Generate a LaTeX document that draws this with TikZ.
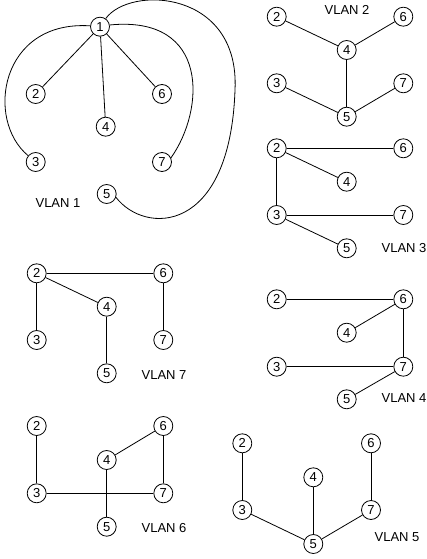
\documentclass[tikz,border=0pt]{standalone}
\usepackage{fontspec}
\setmainfont{Liberation Sans}
\begin{document}
\begin{tikzpicture}[x=1pt,y=-1pt,
  vnode/.style={circle,draw,line width=0.8pt,inner sep=0pt,minimum size=19pt,font=\fontsize{13}{15}\selectfont},
  vlabel/.style={font=\fontsize{13}{15}\selectfont,inner sep=0pt},
  link/.style={line width=0.8pt}]
\useasboundingbox (0,0) rectangle (427,559);
% VLAN 1
\node[vnode] (a1) at (100,26.7) {1};
\node[vnode] (a2) at (35.7,94) {2};
\node[vnode] (a6) at (162,94) {6};
\node[vnode] (a4) at (105.7,126.7) {4};
\node[vnode] (a3) at (35.7,162) {3};
\node[vnode] (a7) at (162,162) {7};
\node[vnode] (a5) at (106.7,194) {5};
\node[vlabel] (la) at (58,203) {VLAN 1};
\draw[link] (a1) -- (a2);
\draw[link] (a1) -- (a4);
\draw[link] (a1) -- (a6);
\draw[link] (a1.175) .. controls (0,20) and (-15,120) .. (a3.140);
\draw[link] (a1.10) .. controls (210,15) and (205,110) .. (a7.25);
\draw[link] (a1.55) .. controls (130,-15) and (240,-10) .. (235,90) .. controls (230,235) and (145,235) .. (a5.-20);
% VLAN 2
\node[vnode] (b2) at (276.7,16.7) {2};
\node[vnode] (b6) at (403.3,16.7) {6};
\node[vnode] (b4) at (346.7,50) {4};
\node[vnode] (b3) at (276.7,83.3) {3};
\node[vnode] (b7) at (403.3,83.3) {7};
\node[vnode] (b5) at (346.7,116.7) {5};
\node[vlabel] (lb) at (347,9.5) {VLAN 2};
\draw[link] (b2) -- (b4);
\draw[link] (b6) -- (b4);
\draw[link] (b4) -- (b5);
\draw[link] (b3) -- (b5);
\draw[link] (b7) -- (b5);
% VLAN 3
\node[vnode] (c2) at (276.7,148.3) {2};
\node[vnode] (c6) at (403.3,148.3) {6};
\node[vnode] (c4) at (346.7,181.7) {4};
\node[vnode] (c3) at (276.7,215) {3};
\node[vnode] (c7) at (403.3,215) {7};
\node[vnode] (c5) at (346.7,248.3) {5};
\node[vlabel] (lc) at (404,248) {VLAN 3};
\draw[link] (c2) -- (c6);
\draw[link] (c2) -- (c4);
\draw[link] (c2) -- (c3);
\draw[link] (c3) -- (c7);
\draw[link] (c3) -- (c5);
% VLAN 7
\node[vnode] (g2) at (36.7,273.3) {2};
\node[vnode] (g6) at (163.3,273.3) {6};
\node[vnode] (g4) at (106.7,306.7) {4};
\node[vnode] (g3) at (36.7,340) {3};
\node[vnode] (g7) at (163.3,340) {7};
\node[vnode] (g5) at (106.7,373.3) {5};
\node[vlabel] (lg) at (164,375) {VLAN 7};
\draw[link] (g2) -- (g6);
\draw[link] (g2) -- (g4);
\draw[link] (g2) -- (g3);
\draw[link] (g4) -- (g5);
\draw[link] (g6) -- (g7);
% VLAN 4
\node[vnode] (d2) at (276.7,299.3) {2};
\node[vnode] (d6) at (403.3,299.3) {6};
\node[vnode] (d4) at (346.7,332.7) {4};
\node[vnode] (d3) at (276.7,366.7) {3};
\node[vnode] (d7) at (403.3,366.7) {7};
\node[vnode] (d5) at (346.7,399.3) {5};
\node[vlabel] (ld) at (404,398) {VLAN 4};
\draw[link] (d2) -- (d6);
\draw[link] (d4) -- (d6);
\draw[link] (d6) -- (d7);
\draw[link] (d3) -- (d7);
\draw[link] (d5) -- (d7);
% VLAN 6
\node[vnode] (f2) at (36.7,426) {2};
\node[vnode] (f6) at (163.3,426) {6};
\node[vnode] (f4) at (106.7,460) {4};
\node[vnode] (f3) at (36.7,493.3) {3};
\node[vnode] (f7) at (163.3,493.3) {7};
\node[vnode] (f5) at (106.7,526.7) {5};
\node[vlabel] (lf) at (164,528) {VLAN 6};
\draw[link] (f2) -- (f3);
\draw[link] (f4) -- (f6);
\draw[link] (f6) -- (f7);
\draw[link] (f3) -- (f7);
\draw[link] (f4) -- (f5);
% VLAN 5
\node[vnode] (e2) at (242.3,443.3) {2};
\node[vnode] (e6) at (371,443.3) {6};
\node[vnode] (e4) at (313.3,477.3) {4};
\node[vnode] (e3) at (242.3,510) {3};
\node[vnode] (e7) at (371,510) {7};
\node[vnode] (e5) at (313.3,544) {5};
\node[vlabel] (le) at (397,536.7) {VLAN 5};
\draw[link] (e2) -- (e3);
\draw[link] (e6) -- (e7);
\draw[link] (e4) -- (e5);
\draw[link] (e3) -- (e5);
\draw[link] (e7) -- (e5);
\end{tikzpicture}
\end{document}
